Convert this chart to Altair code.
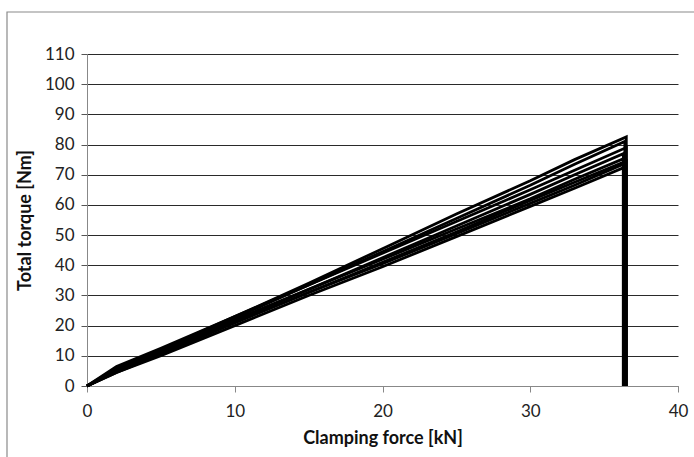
import altair as alt
import pandas as pd

# Clamping force sample points (kN) along each tightening run
force_kn = [0, 2, 5, 10, 15, 20, 25, 30, 33, 36.4]

# Total torque (Nm) recorded for each tightening run
run_1 = [0, 5.5, 12.0, 23.0, 34.0, 45.5, 57.0, 68.0, 75.0, 82.5]
run_2 = [0, 5.0, 11.5, 22.5, 33.5, 44.5, 55.5, 66.5, 73.5, 81.0]
run_3 = [0, 6.5, 12.5, 23.0, 33.5, 44.0, 54.5, 65.0, 71.5, 79.0]
run_4 = [0, 5.0, 11.0, 21.5, 32.0, 42.5, 53.0, 63.5, 70.0, 77.0]
run_5 = [0, 6.0, 12.0, 22.0, 32.0, 42.0, 52.0, 62.0, 68.5, 75.5]
run_6 = [0, 4.5, 10.5, 21.0, 31.0, 41.0, 51.0, 61.5, 67.5, 74.5]
run_7 = [0, 5.0, 11.0, 21.0, 31.0, 40.5, 50.5, 60.5, 66.5, 73.5]
run_8 = [0, 4.5, 10.0, 20.0, 30.0, 39.5, 49.5, 59.5, 65.5, 72.5]
runs = [run_1, run_2, run_3, run_4, run_5, run_6, run_7, run_8]

# Force at which each run is released (torque drops back to zero)
release_kn = [36.5, 36.4, 36.5, 36.3, 36.4, 36.5, 36.3, 36.4]

rows = []
for i, (torque, rel) in enumerate(zip(runs, release_kn)):
    order = 0
    for f, t in zip(force_kn[:-1], torque[:-1]):
        rows.append({"run": i, "order": order, "force": f, "torque": t})
        order += 1
    rows.append({"run": i, "order": order, "force": rel, "torque": torque[-1]})
    order += 1
    rows.append({"run": i, "order": order, "force": rel, "torque": 0})
df = pd.DataFrame(rows)

W, H = 591, 332
PAD_L, PAD_T, PAD_R, PAD_B = 87, 54, 16, 71

font = "Lato"

# Outer frame of the chart
frame = alt.Chart(pd.DataFrame({"a": [0]})).mark_rect(
    fill=None, stroke="#8a8a8a", strokeWidth=1.2
).encode(
    x=alt.value(7 - PAD_L), x2=alt.value(W + 200),
    y=alt.value(12 - PAD_T), y2=alt.value(H + 200),
)

lines = alt.Chart(df).mark_line(
    color="black", strokeWidth=2.8, clip=False
).encode(
    x=alt.X(
        "force:Q",
        scale=alt.Scale(domain=[0, 40], nice=False),
        axis=alt.Axis(
            values=[0, 10, 20, 30, 40], grid=False, labelFlush=False,
            title="Clamping force [kN]", titleFontSize=18, titleFont=font,
            titleFontWeight="bold", titleColor="#111", titlePadding=10,
            labelFontSize=17, labelFont=font, labelColor="#222", labelPadding=11,
            tickSize=6, tickColor="#888", domainColor="#888",
        ),
    ),
    y=alt.Y(
        "torque:Q",
        scale=alt.Scale(domain=[0, 110], nice=False),
        axis=alt.Axis(
            values=list(range(0, 111, 10)), grid=True, gridColor="#2a2a2a",
            gridWidth=1, tickSize=6, tickColor="#555", domainColor="#888",
            labelFlush=False,
            title="Total torque [Nm]", titleFontSize=18, titleFont=font,
            titleFontWeight="bold", titleColor="#111", titlePadding=10,
            labelFontSize=17, labelFont=font, labelColor="#222", labelPadding=7,
        ),
    ),
    detail="run:N",
    order="order:Q",
)

chart = alt.layer(frame, lines).properties(
    width=W, height=H,
    autosize=alt.AutoSizeParams(type="none"),
    padding={"left": PAD_L, "top": PAD_T, "right": PAD_R, "bottom": PAD_B},
    background="white",
).configure_view(stroke=None)

chart.save("out.html", embed_options={"renderer": "svg", "actions": False})
